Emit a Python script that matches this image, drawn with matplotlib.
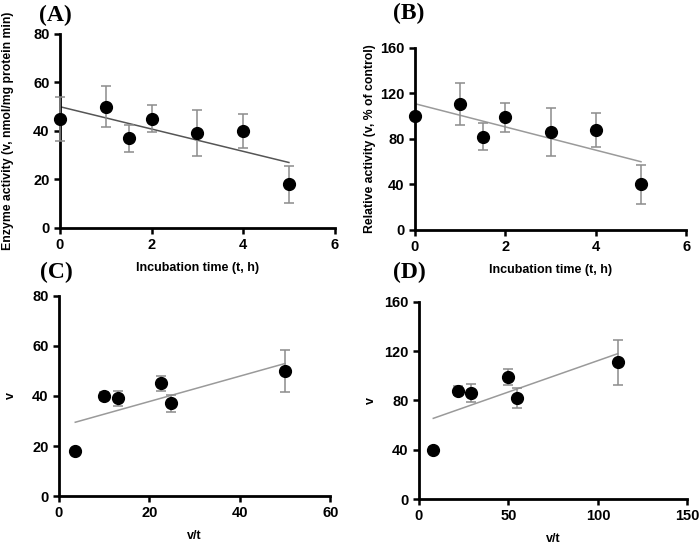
import matplotlib
matplotlib.use("Agg")
import matplotlib.pyplot as plt
import numpy as np

plt.rcParams['font.family'] = ['Liberation Sans', 'DejaVu Sans']

# data
t_hours = [0, 1, 1.5, 2, 3, 4, 5]
v_enzyme = [45, 50, 37, 45, 39, 40, 18]
v_enzyme_err = [9, 8.5, 5.5, 5.5, 9.5, 7, 7.5]
fit_a = [50, 27]

v_rel = [100, 111, 82, 99, 86, 88, 40]
v_rel_err = [0, 18.5, 12, 13, 21, 15, 17]
fit_b = [111, 60]

vt_c = [50, 24.7, 22.5, 13, 10, 3.6]
v_c = [50, 37, 45, 39, 40, 18]
v_c_err = [8.5, 3.5, 3, 3, 1.5, 1]
fit_c_x = [3.6, 50]
fit_c_y = [29.5, 53]

vt_d = [111, 55, 50, 29, 22, 8]
v_d = [111, 82, 99, 86, 88, 40]
v_d_err = [18.5, 8, 6.5, 7, 3.5, 2]
fit_d_x = [8, 111]
fit_d_y = [65.5, 118]

fig = plt.figure(figsize=(6.99, 5.45), dpi=100)
axA = fig.add_axes([0.0858, 0.5817, 0.393, 0.356])
axB = fig.add_axes([0.5937, 0.578, 0.388, 0.334])
axC = fig.add_axes([0.0844, 0.0899, 0.388, 0.367])
axD = fig.add_axes([0.5994, 0.0844, 0.384, 0.3615])


def style(ax, xlim, xticks, ylim, yticks):
    ax.set_xlim(xlim)
    ax.set_ylim(ylim)
    ax.set_xticks(xticks)
    ax.set_yticks(yticks)
    for s in ['top', 'right']:
        ax.spines[s].set_visible(False)
    for s in ['left', 'bottom']:
        ax.spines[s].set_linewidth(2)
    ax.tick_params(width=1.8, length=4, labelsize=10.5)
    for lab in ax.get_xticklabels() + ax.get_yticklabels():
        lab.set_fontweight('bold')


def panel(ax, x, y, err, fx, fy, fcolor):
    ax.plot(fx, fy, color=fcolor, lw=1.1, zorder=2)
    ax.errorbar(x, y, yerr=err, fmt='o', color='black', ms=8.5,
                ecolor='#8c8c8c', elinewidth=1.1, capsize=3.8, capthick=1.1,
                zorder=3, clip_on=False)


panel(axA, t_hours, v_enzyme, v_enzyme_err, [0, 5], fit_a, '#555555')
style(axA, (0, 6), [0, 2, 4, 6], (0, 80), [0, 20, 40, 60, 80])
axA.set_xlabel('Incubation time (t, h)', fontsize=9, fontweight='bold', labelpad=7)
axA.set_ylabel('Enzyme activity (v, nmol/mg protein min)', fontsize=8.8, fontweight='bold', labelpad=14)

panel(axB, t_hours[1:], v_rel[1:], v_rel_err[1:], [0, 5], fit_b, '#9a9a9a')
axB.plot([0], [v_rel[0]], 'o', color='black', ms=8.5, clip_on=False, zorder=3)
style(axB, (0, 6), [0, 2, 4, 6], (0, 160), [0, 40, 80, 120, 160])
axB.set_xlabel('Incubation time (t, h)', fontsize=9, fontweight='bold', labelpad=7)
axB.set_ylabel('Relative activity (v, % of control)', fontsize=8.8, fontweight='bold', labelpad=3)

panel(axC, vt_c, v_c, v_c_err, fit_c_x, fit_c_y, '#9a9a9a')
style(axC, (0, 60), [0, 20, 40, 60], (0, 80), [0, 20, 40, 60, 80])
axC.set_xlabel('v/t', fontsize=9, fontweight='bold', labelpad=7)
axC.set_ylabel('v', fontsize=9, fontweight='bold', labelpad=11)

panel(axD, vt_d, v_d, v_d_err, fit_d_x, fit_d_y, '#9a9a9a')
style(axD, (0, 150), [0, 50, 100, 150], (0, 160), [0, 40, 80, 120, 160])
axD.set_xlabel('v/t', fontsize=9, fontweight='bold', labelpad=7)
axD.set_ylabel('v', fontsize=9, fontweight='bold', labelpad=5)

for lbl, (x, y) in zip(['(A)', '(B)', '(C)', '(D)'],
                       [(55, 15), (409, 13), (56, 272), (409, 272)]):
    fig.text(x / 699, 1 - y / 545, lbl, fontsize=17, fontweight='bold',
             family='Liberation Serif', ha='center', va='center')

fig.savefig('out.png', dpi=100, facecolor='white')
